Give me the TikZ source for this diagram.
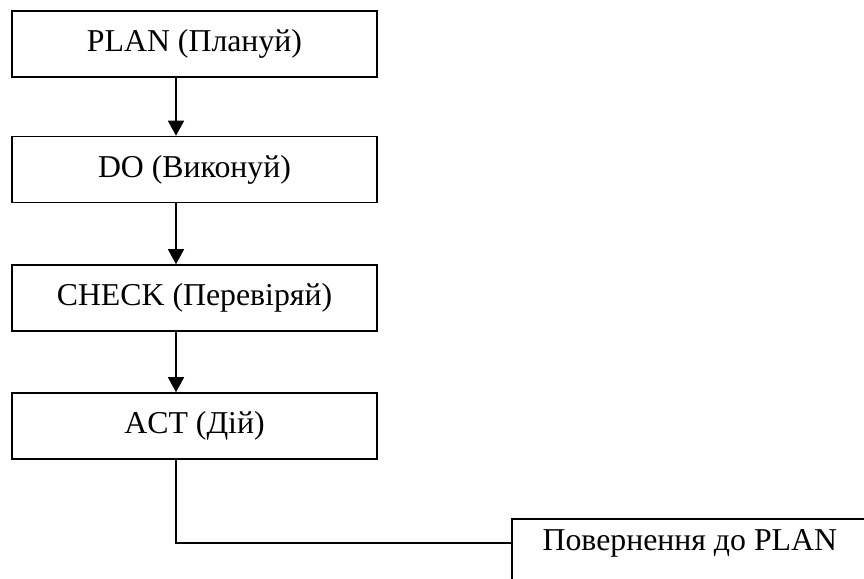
\documentclass[tikz,border=0pt]{standalone}
\usepackage{fontspec}
\setmainfont{Liberation Serif}
\usetikzlibrary{arrows.meta, positioning, calc}

\tikzset{
  stage/.style={draw, line width=1.6pt, minimum width=365pt, minimum height=66pt, inner sep=0pt, font=\fontsize{31.8}{38}\selectfont},
  flow/.style={line width=1.6pt, -{Triangle[length=15pt, width=16pt]}}
}

\begin{document}
\begin{tikzpicture}[x=1pt, y=-1pt]
  \useasboundingbox (0,0) rectangle (864,578);

  % Stages of the cycle
  \node[stage] (plan) at (194.5,44) {PLAN (Плануй)};
  \node[stage] (do) at (194.5,169.5) {DO (Виконуй)};
  \node[stage] (check) at (194.5,298) {CHECK (Перевіряй)};
  \node[stage] (act) at (194.5,426) {ACT (Дій)};

  % Return box (runs off the page)
  \node[stage, anchor=north west, minimum width=356pt, inner ysep=10pt, text height=22pt, text depth=60pt] (ret) at (511,518) {Повернення до PLAN};

  % Arrows
  \coordinate (spine) at (176,0);
  \draw[flow] (plan.south -| spine) -- (do.north -| spine);
  \draw[flow] (do.south -| spine) -- (check.north -| spine);
  \draw[flow] (check.south -| spine) -- (act.north -| spine);
  \draw[line width=1.6pt] (act.south -| spine) |- ($(ret.north west)+(0,25)$);
\end{tikzpicture}
\end{document}
